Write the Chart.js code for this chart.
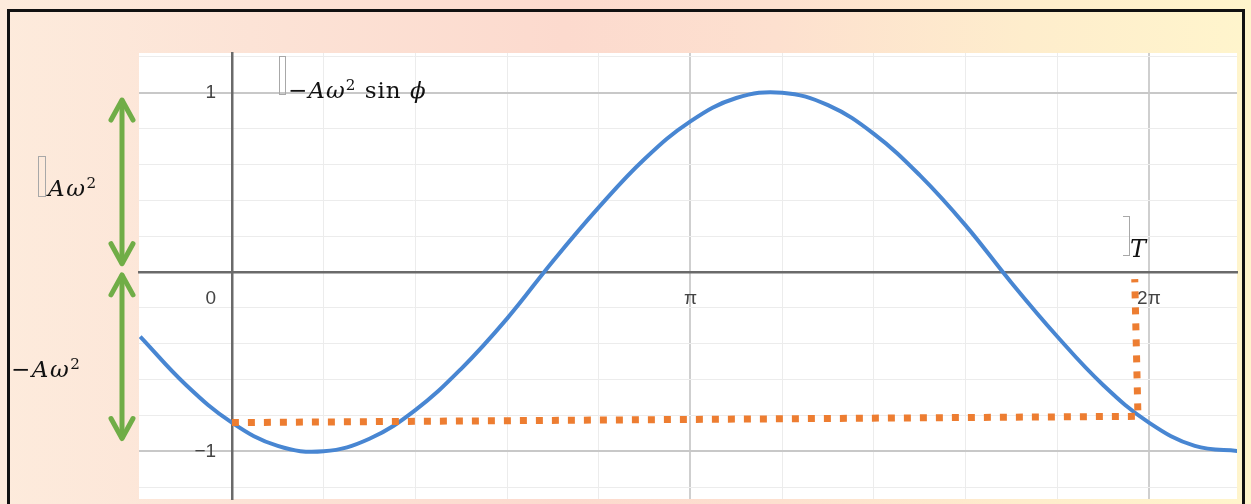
<!DOCTYPE html>
<html>
<head>
<meta charset="utf-8">
<script src="https://cdn.jsdelivr.net/npm/chart.js@4.4.1/dist/chart.umd.min.js"></script>
<style>
  html, body { margin:0; padding:0; }
  body {
    width:1251px; height:504px; overflow:hidden; position:relative;
    background: linear-gradient(90deg, #FDEBDC 0%, #FCE3D6 20%, #FCDACE 45%, #FDE0CF 62%, #FEEDCC 82%, #FFF5CC 100%);
  }
  #frame { position:absolute; left:7px; top:9px; width:1232px; height:520px; border:3px solid #111; box-sizing:content-box; }
  canvas { position:absolute; left:0; top:0; }
  .m { position:absolute; font-family:"DejaVu Serif","Liberation Serif",serif; font-size:23px; line-height:23px; color:#111; white-space:nowrap; letter-spacing:1px; }
  .m sup { font-size:0.66em; vertical-align:0; position:relative; top:-0.55em; font-style:normal; }
  .box { position:absolute; border:1px solid #a8a8a8; box-sizing:border-box; }
</style>
</head>
<body>
<div id="frame"></div>
<canvas id="c" width="1251" height="504"></canvas>

<div class="box" style="left:279px;top:56px;width:7px;height:39px;"></div>
<div class="m" style="left:288px;top:79px;">−<i>A</i><i>ω</i><sup>2</sup> sin <i>ϕ</i></div>

<div class="box" style="left:38px;top:156px;width:8px;height:41px;"></div>
<div class="m" style="left:48px;top:177px;letter-spacing:1.5px;"><i>A</i><i>ω</i><sup>2</sup></div>

<div class="m" style="left:11px;top:358px;letter-spacing:1.5px;">−<i>A</i><i>ω</i><sup>2</sup></div>

<div class="box" style="left:1123px;top:216px;width:7px;height:40px;border-left:none;"></div>
<div class="m" style="left:1130px;top:237px;font-size:24px;line-height:24px;"><i>T</i></div>

<script>
// x values in units of π
const xValues = [-0.2,-0.1,0.0,0.1,0.2,0.3,0.4,0.5,0.6,0.7,0.8,0.9,1.0,1.1,1.2,1.3,1.4,1.5,1.6,1.7,1.8,1.9,2.0,2.1,2.2];
// (−Aω² sin φ, normalised)
const yValues = [-0.36,-0.63,-0.84,-0.97,-1.00,-0.93,-0.77,-0.54,-0.26,0.06,0.36,0.63,0.84,0.97,1.00,0.93,0.77,0.54,0.26,-0.06,-0.36,-0.63,-0.84,-0.97,-1.00];
// orange dotted guide (period T)
const guideX = [0.0, 1.976, 1.969];
const guideY = [-0.84, -0.805, -0.04];
// green amplitude arrows [from, to]
const arrowFrom = [0.97, -0.005];
const arrowTo = [0.035, -0.94];
// axis ticks / labels
const xTickValues = [0,0.2,0.4,0.6,0.8,1.0,1.2,1.4,1.6,1.8,2.0];
const xTickLabels = {0:'0        ', 1:'π', 2:'2π'};
const yTickValues = [-1.2,-1.0,-0.8,-0.6,-0.4,-0.2,0,0.2,0.4,0.6,0.8,1.0,1.2];
const yTickLabels = {'1':'1   ', '-1':'−1   '};

const curve = xValues.map((x,i)=>({x, y:yValues[i]}));
const guide = guideX.map((x,i)=>({x, y:guideY[i]}));
const near = (a,b)=>Math.abs(a-b)<1e-6;

const bgPlugin = {
  id:'bg',
  beforeDraw(chart){
    const {ctx, chartArea:a} = chart;
    ctx.save(); ctx.fillStyle='#ffffff';
    ctx.fillRect(a.left, a.top, a.right-a.left, a.bottom-a.top);
    ctx.restore();
  }
};
const arrowPlugin = {
  id:'arrows',
  afterDraw(chart){
    const {ctx, chartArea:a, scales:{y}} = chart;
    const x = a.left - 17;
    ctx.save();
    ctx.strokeStyle='#70AD47'; ctx.lineWidth=5; ctx.lineCap='round'; ctx.lineJoin='round';
    for (let i=0;i<arrowFrom.length;i++){
      const y1=y.getPixelForValue(arrowFrom[i]), y2=y.getPixelForValue(arrowTo[i]);
      ctx.beginPath(); ctx.moveTo(x,y1+3); ctx.lineTo(x,y2-3); ctx.stroke();
      ctx.beginPath(); ctx.moveTo(x-11,y1+22); ctx.lineTo(x,y1+2); ctx.lineTo(x+11,y1+22); ctx.stroke();
      ctx.beginPath(); ctx.moveTo(x-11,y2-22); ctx.lineTo(x,y2-2); ctx.lineTo(x+11,y2-22); ctx.stroke();
    }
    ctx.restore();
  }
};

new Chart(document.getElementById('c'), {
  type:'line',
  data:{ datasets:[
    { data:guide, borderColor:'#ED7D31', borderWidth:7, borderDash:[7,9], pointRadius:0, tension:0, fill:false, order:0, clip:0 },
    { data:curve, borderColor:'#4886D2', borderWidth:4, pointRadius:0, tension:0.4, fill:false, order:1, clip:0 }
  ]},
  options:{
    responsive:false, animation:false, devicePixelRatio:1,
    layout:{ padding:{ left:139, right:14, top:53, bottom:5 } },
    plugins:{ legend:{display:false}, tooltip:{enabled:false} },
    scales:{
      x:{ type:'linear', position:{y:0}, min:-0.2026, max:2.192,
        afterBuildTicks: s => { s.ticks = xTickValues.map(v=>({value:v})); },
        ticks:{ autoSkip:false, maxRotation:0, padding:15, color:'#444',
          font:{family:'"Liberation Sans", Arial, sans-serif', size:19},
          callback: v => { for (const k in xTickLabels) if (near(+k,v)) return xTickLabels[k]; return ''; } },
        grid:{ drawTicks:false,
          color: c => { const v=c.tick?c.tick.value:0; if (near(v,0)) return 'rgba(0,0,0,0)'; if (near(v,1)||near(v,2)) return '#cfcfcf'; return '#ececec'; },
          lineWidth: c => { const v=c.tick?c.tick.value:0; return (near(v,1)||near(v,2))?2:1; } },
        border:{ color:'#6a6a6a', width:2.5 }
      },
      y:{ type:'linear', position:{x:0}, min:-1.266, max:1.221,
        afterBuildTicks: s => { s.ticks = yTickValues.map(v=>({value:v})); },
        ticks:{ autoSkip:false, padding:0, color:'#444',
          font:{family:'"Liberation Sans", Arial, sans-serif', size:19, lineHeight:0.05},
          callback: v => { for (const k in yTickLabels) if (near(+k,v)) return yTickLabels[k]; return ''; } },
        grid:{ drawTicks:false,
          color: c => { const v=c.tick?c.tick.value:0; if (near(v,0)) return 'rgba(0,0,0,0)'; if (near(Math.abs(v),1)) return '#c8c8c8'; return '#ececec'; },
          lineWidth: c => { const v=c.tick?c.tick.value:0; return near(Math.abs(v),1)?2:1; } },
        border:{ color:'#6a6a6a', width:2.5 }
      }
    }
  },
  plugins:[bgPlugin, arrowPlugin]
});
</script>
</body>
</html>
